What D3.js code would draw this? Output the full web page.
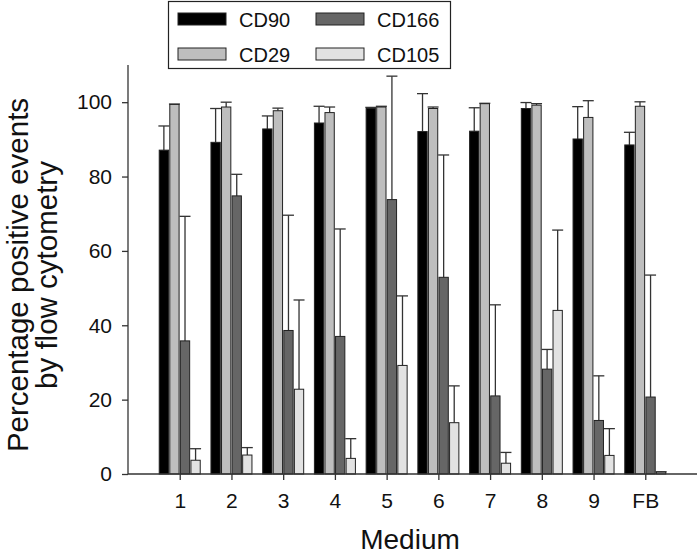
<!DOCTYPE html>
<html><head><meta charset="utf-8">
<script src="https://cdn.jsdelivr.net/npm/d3@7"></script>
<style>body{margin:0;background:#fff}svg{display:block;font-family:"Liberation Sans",Arial,sans-serif}</style>
</head><body><svg id="c" width="699" height="555"></svg>
<script>
const categories = ["1","2","3","4","5","6","7","8","9","FB"];
const seriesNames = ["CD90","CD29","CD166","CD105"];
const seriesColors = ["#000000","#bebebe","#666666","#e2e2e2"];
const cd90 = [87.1, 89.2, 92.8, 94.4, 98.3, 92.1, 92.2, 98.3, 90.1, 88.5];
const cd90Err = [6.5, 9.1, 3.5, 4.5, 0.3, 10.2, 6.3, 1.6, 8.7, 3.4];
const cd29 = [99.4, 98.7, 97.7, 97.2, 98.7, 98.3, 99.6, 99.2, 95.9, 98.9];
const cd29Err = [0.1, 1.3, 0.7, 1.5, 0.2, 0.4, 0.1, 0.4, 4.5, 1.2];
const cd166 = [35.8, 74.8, 38.6, 37.0, 73.8, 52.9, 21.0, 28.2, 14.4, 20.7];
const cd166Err = [33.5, 5.8, 31.0, 28.9, 33.2, 32.9, 24.5, 5.3, 12.0, 32.8];
const cd105 = [3.7, 5.1, 22.8, 4.2, 29.2, 13.8, 2.9, 44.0, 5.0, 0.5];
const cd105Err = [3.1, 2.0, 24.0, 5.3, 18.7, 9.9, 2.9, 21.6, 7.2, 0.1];
const yTicks = [0, 20, 40, 60, 80, 100];

const values = [cd90, cd29, cd166, cd105];
const errs = [cd90Err, cd29Err, cd166Err, cd105Err];

const svg = d3.select("#c");
const x = d3.scalePoint().domain(categories).range([128, 697]).padding(1);
const xi = d3.scaleBand().domain(seriesNames).range([-20.5, 20.5]).paddingInner(0.12);
const y = d3.scaleLinear().domain([0, 110]).range([474, 65]);

const rows = [];
categories.forEach((c, i) => seriesNames.forEach((s, k) => rows.push({c, s, k, v: values[k][i], e: errs[k][i]})));

// error bars (drawn before bars)
const eg = svg.append("g").attr("stroke", "#333").attr("stroke-width", 1.3);
rows.forEach(d => {
  const cx = x(d.c) + xi(d.s) + xi.bandwidth() / 2;
  eg.append("line").attr("x1", cx).attr("x2", cx).attr("y1", y(d.v)).attr("y2", y(d.v + d.e));
  eg.append("line").attr("x1", cx - 5.5).attr("x2", cx + 5.5).attr("y1", y(d.v + d.e)).attr("y2", y(d.v + d.e));
});

svg.append("g").selectAll("rect").data(rows).join("rect")
  .attr("x", d => x(d.c) + xi(d.s))
  .attr("width", xi.bandwidth())
  .attr("y", d => y(d.v))
  .attr("height", d => y(0) - y(d.v))
  .attr("fill", d => seriesColors[d.k])
  .attr("stroke", "#222").attr("stroke-width", 1);

// axes
const xAxis = svg.append("g").attr("transform", "translate(0,474)")
  .call(d3.axisBottom(x).tickSize(6).tickPadding(13));
xAxis.select(".domain").attr("d", "M128,0H697");
const yAxis = svg.append("g").attr("transform", "translate(128,0)")
  .call(d3.axisLeft(y).tickValues(yTicks).tickSize(6).tickPadding(10));
yAxis.select(".domain").attr("d", "M0,474V65");
[xAxis, yAxis].forEach(a => {
  a.selectAll("path,line").attr("stroke", "#333").attr("stroke-width", 1.3);
  a.selectAll("text").attr("font-size", 21).attr("fill", "#111").attr("font-family", "Liberation Sans, Arial, sans-serif");
});

svg.append("text").attr("x", 410).attr("y", 549).attr("text-anchor", "middle")
  .attr("font-size", 28).attr("fill", "#111").text("Medium");
const yt = svg.append("text").attr("transform", "translate(0,275) rotate(-90)")
  .attr("text-anchor", "middle").attr("font-size", 29.5).attr("fill", "#111");
yt.append("tspan").attr("x", 0).attr("y", 28).text("Percentage positive events");
yt.append("tspan").attr("x", 0).attr("y", 57).text("by flow cytometry");

// legend
const lg = svg.append("g");
lg.append("rect").attr("x", 168.5).attr("y", 1.5).attr("width", 282).attr("height", 67)
  .attr("fill", "#fff").attr("stroke", "#222").attr("stroke-width", 1.2);
const legPos = [[178, 13], [178, 48], [316, 13], [316, 48]];
seriesNames.forEach((s, k) => {
  const [lx, ly] = legPos[k];
  lg.append("rect").attr("x", lx).attr("y", ly).attr("width", 48).attr("height", 12)
    .attr("fill", seriesColors[k]).attr("stroke", "#222").attr("stroke-width", 1);
  lg.append("text").attr("x", lx + 61).attr("y", ly + 14).attr("font-size", 20).attr("fill", "#111").text(s);
});
</script></body></html>
